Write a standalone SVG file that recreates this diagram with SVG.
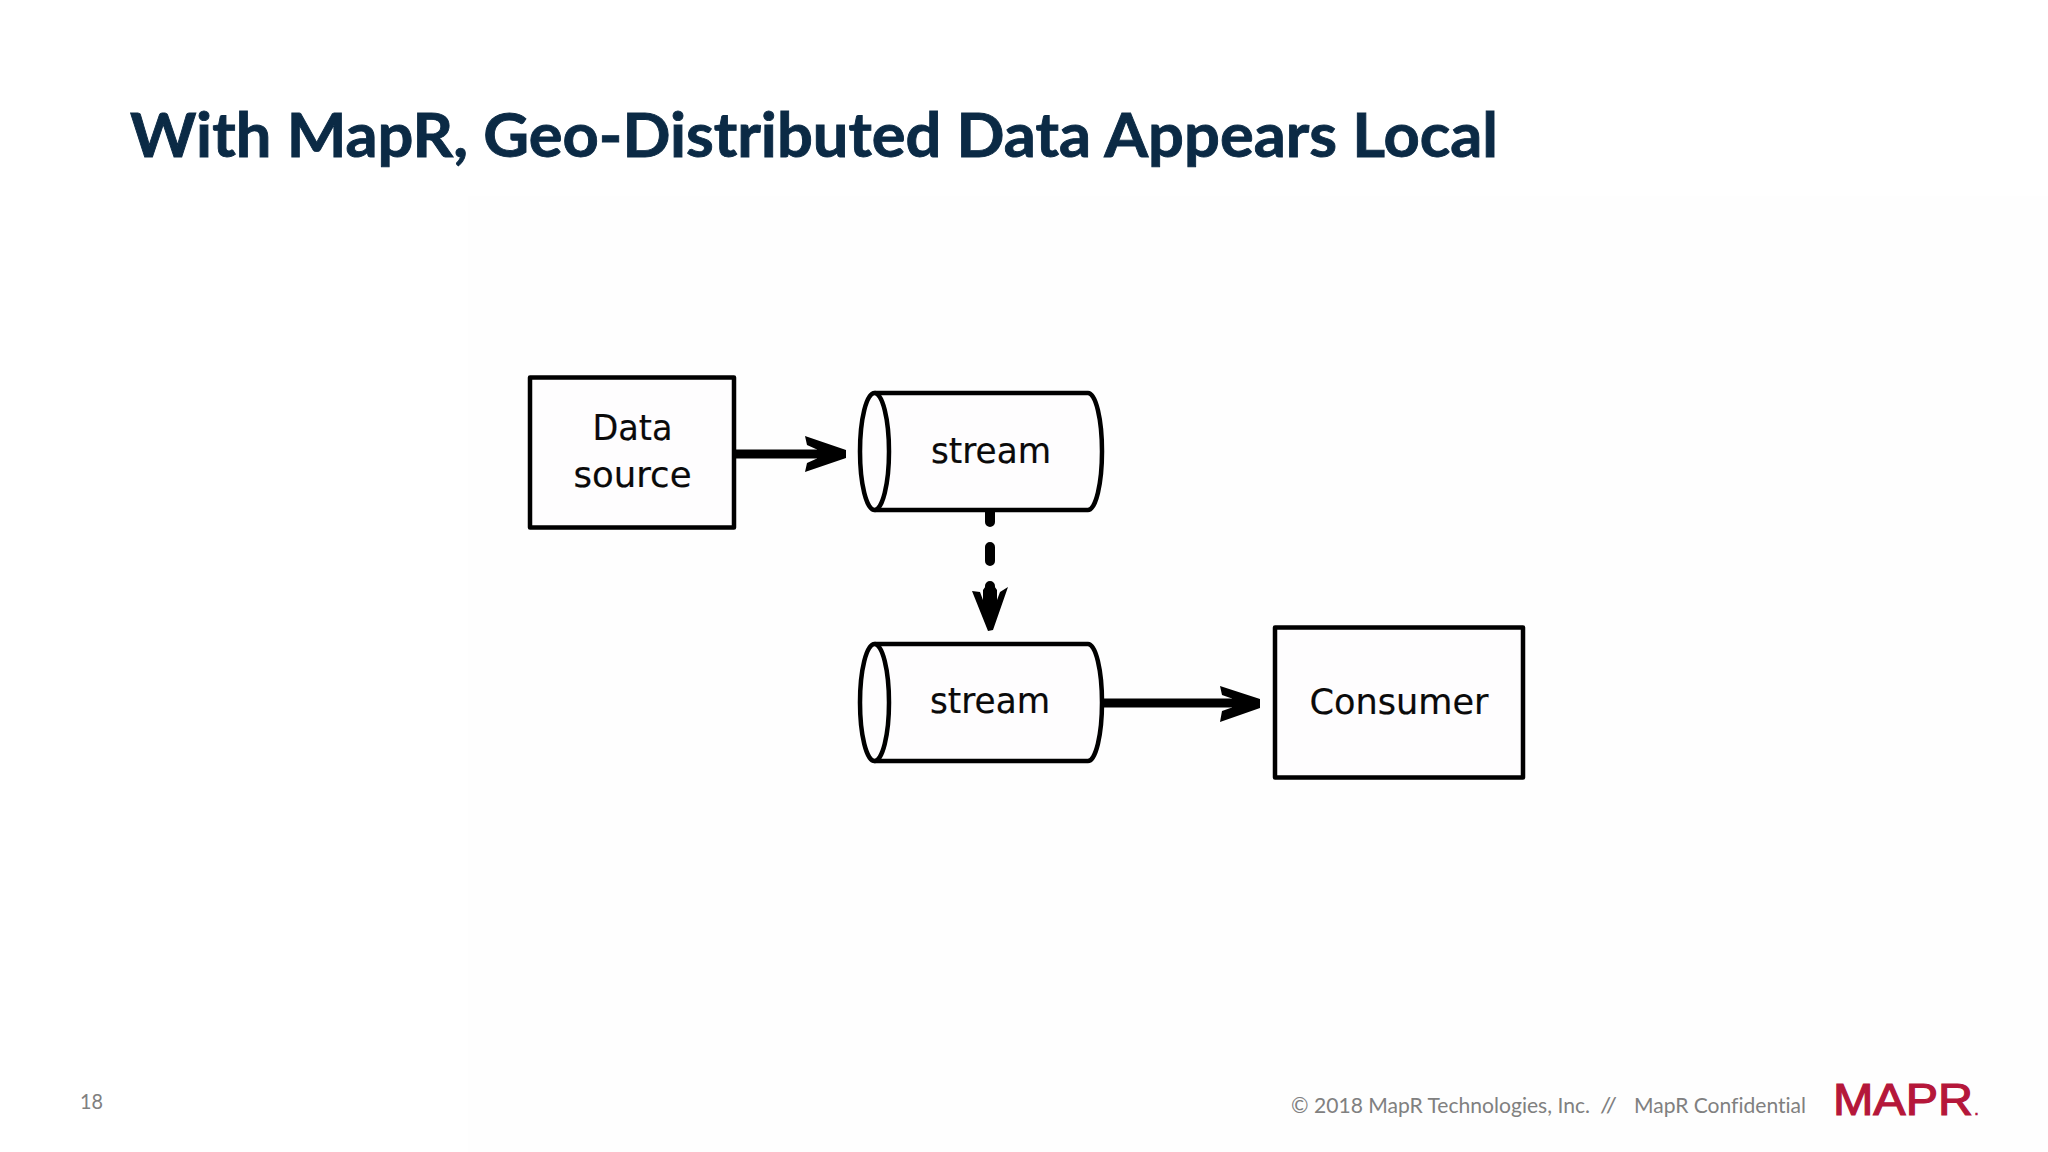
<svg xmlns="http://www.w3.org/2000/svg" width="2048" height="1152" viewBox="0 0 2048 1152">
<style>
.box{fill:#fefdfe;stroke:#000;stroke-width:4.500;stroke-linejoin:round}
.lbl{font-family:"DejaVu Sans",sans-serif;font-size:35px;fill:#0a0a0a;text-anchor:middle;stroke:#0a0a0a;stroke-width:.2}
.foot{font-family:Lato,"Open Sans","Liberation Sans",sans-serif;font-size:21px;fill:#808080;font-variant-ligatures:none}
.wire{stroke:#000;fill:none;stroke-width:9}
</style>
<defs>
<g id="cyl">
<path class="box" d="M875,0H1088A14,58.500 0 0 1 1088,117H875Z"/>
<ellipse class="box" cx="874.500" cy="58.500" rx="14.500" ry="58.500"/>
</g>
</defs>
<rect width="2048" height="1152" fill="#ffffff"/>
<rect x="468" y="196" width="1580" height="956" fill="#fefefe"/>
<text x="130" y="157" font-family="Lato, Open Sans, Liberation Sans, sans-serif" font-weight="700" font-size="62" fill="#0b2a45" stroke="#0b2a45" stroke-width=".9" textLength="1368" lengthAdjust="spacingAndGlyphs">With MapR, Geo-Distributed Data Appears Local</text>
<g id="connectors">
<path class="wire" d="M734,454H825"/>
<path d="M846,450L805,436L807,445L817,449.500V458.500L807,463L805,472L846,458Z"/>
<path class="wire" d="M1101,703H1240"/>
<path d="M1260,699L1220,686L1222,695L1232,698.500V707.500L1222,711L1220,722L1260,708Z"/>
<path d="M990,509V522M990,547V561M990,586V615" fill="none" stroke="#000" stroke-width="10" stroke-linecap="round"/>
<path d="M993,630L1008,587L1000,592L997,600V590Q990,578 983,590V600L980,592L972,591L988,631Z"/>
</g>
<g id="data-source">
<rect class="box" x="530" y="377.500" width="204" height="150"/>
<text class="lbl" x="632.500" y="440" textLength="80" lengthAdjust="spacingAndGlyphs">Data</text>
<text class="lbl" x="632.500" y="487" textLength="118" lengthAdjust="spacingAndGlyphs">source</text>
</g>
<g id="stream-1">
<use href="#cyl" y="393"/>
<text class="lbl" x="991" y="463" textLength="120" lengthAdjust="spacingAndGlyphs">stream</text>
</g>
<g id="stream-2">
<use href="#cyl" y="644"/>
<text class="lbl" x="990" y="713" textLength="120" lengthAdjust="spacingAndGlyphs">stream</text>
</g>
<g id="consumer">
<rect class="box" x="1275" y="627.500" width="248" height="150"/>
<text class="lbl" x="1399" y="714" textLength="179" lengthAdjust="spacingAndGlyphs">Consumer</text>
</g>
<text class="foot" x="80" y="1109" textLength="23" lengthAdjust="spacingAndGlyphs">18</text>
<text class="foot" x="1291" y="1113" textLength="299" lengthAdjust="spacingAndGlyphs">© 2018 MapR Technologies, Inc.</text>
<text class="foot" x="1600" y="1113" textLength="17" lengthAdjust="spacingAndGlyphs">//</text>
<text class="foot" x="1634" y="1113" textLength="172" lengthAdjust="spacingAndGlyphs">MapR Confidential</text>
<g id="logo" font-family="Liberation Sans, sans-serif" fill="#b5173a" stroke="#b5173a">
<text x="1833" y="1115" font-size="44" stroke-width="1.200" textLength="140" lengthAdjust="spacingAndGlyphs">MAPR</text>
<text x="1974" y="1115" font-size="18" stroke-width=".5">.</text>
</g>
</svg>
